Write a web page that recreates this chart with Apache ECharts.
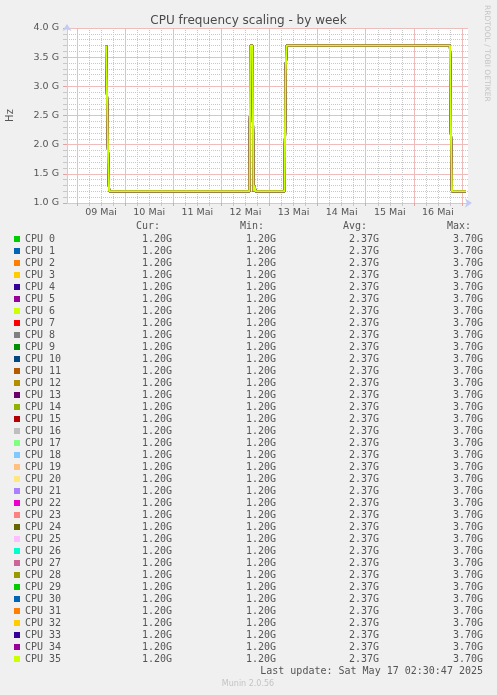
<!DOCTYPE html>
<html>
<head>
<meta charset="utf-8">
<script src="https://cdn.jsdelivr.net/npm/echarts@6/dist/echarts.min.js"></script>
<style>
html,body{margin:0;padding:0;background:#f0f0f0;}
#main{width:497px;height:695px;}
</style>
</head>
<body>
<div id="main"></div>
<script>
// hours since 09 Mai 00:00, visible window
var xMin = -5, xMax = 195;
var dayLabels = ['09 Mai','10 Mai','11 Mai','12 Mai','13 Mai','14 Mai','15 Mai','16 Mai'];
// frequency trace (GHz), same for all cores
var freqTimes  = [14.5, 15.0, 15.5, 16.0, 86.0, 86.5, 87.5, 88.0, 88.5, 89.0, 103.5, 104.0, 104.5, 186.0, 186.5, 187.0, 194.0];
var freqValues = [3.70, 3.70, 1.80, 1.20, 1.20, 3.70, 3.70, 1.20, 1.30, 1.20, 1.20,  3.20,  3.70,  3.70,  2.20,  1.20,  1.20];
var cpuNames = [];
for (var i = 0; i < 36; i++) cpuNames.push('CPU ' + i);
// munin palette, wraps after 29
var palette = ['#00CC00','#0066B3','#FF8000','#FFCC00','#330099','#990099','#CCFF00','#FF0000','#808080',
	'#008F00','#00487D','#B35A00','#B38F00','#6B006B','#8FB300','#B30000','#BEBEBE','#80FF80','#80C9FF',
	'#FFC080','#FFE680','#AA80FF','#EE00CC','#FF8080','#666600','#FFBFFF','#00FFCC','#CC6699','#999900'];
var curVals = ['1.20G','1.20G','1.20G','1.20G','1.20G','1.20G','1.20G','1.20G','1.20G','1.20G','1.20G','1.20G',
	'1.20G','1.20G','1.20G','1.20G','1.20G','1.20G','1.20G','1.20G','1.20G','1.20G','1.20G','1.20G',
	'1.20G','1.20G','1.20G','1.20G','1.20G','1.20G','1.20G','1.20G','1.20G','1.20G','1.20G','1.20G'];
var minVals = curVals.slice();
var avgVals = ['2.37G','2.37G','2.37G','2.37G','2.37G','2.37G','2.37G','2.37G','2.37G','2.37G','2.37G','2.37G',
	'2.37G','2.37G','2.37G','2.37G','2.37G','2.37G','2.37G','2.37G','2.37G','2.37G','2.37G','2.37G',
	'2.37G','2.37G','2.37G','2.37G','2.37G','2.37G','2.37G','2.37G','2.37G','2.37G','2.37G','2.37G'];
var maxVals = ['3.70G','3.70G','3.70G','3.70G','3.70G','3.70G','3.70G','3.70G','3.70G','3.70G','3.70G','3.70G',
	'3.70G','3.70G','3.70G','3.70G','3.70G','3.70G','3.70G','3.70G','3.70G','3.70G','3.70G','3.70G',
	'3.70G','3.70G','3.70G','3.70G','3.70G','3.70G','3.70G','3.70G','3.70G','3.70G','3.70G','3.70G'];

var hourCats = [];
for (var h = xMin; h <= xMax; h++) hourCats.push(String(h));

// gray grid dotted, red (major) grid as light solid lines
var gridGray = '#c8c8c8', gridRed = '#efbcbc', tickRed = '#e8a0a0', axisBlue = '#c4cbf2', txt = '#555';

var series = [];
for (var c = 0; c < cpuNames.length; c++) {
	var d = [];
	for (var k = 0; k < freqTimes.length; k++) d.push([freqTimes[k], freqValues[k]]);
	series.push({
		name: cpuNames[c],
		type: 'line',
		xAxisIndex: 0,
		z: 5,
		showSymbol: false,
		animation: false,
		lineStyle: {width: 2, color: palette[c % palette.length]},
		itemStyle: {color: palette[c % palette.length]},
		data: d
	});
}

function sixHour(i, v) { return (+v) % 6 === 0 && (+v) % 24 !== 0; }
function dayStart(i, v) { return (+v) % 24 === 0; }

var myChart = echarts.init(document.getElementById('main'));
var option = {
	backgroundColor: '#f0f0f0',
	animation: false,
	title: {
		text: 'CPU frequency scaling - by week',
		left: 'center', top: 10,
		textStyle: {fontFamily: 'DejaVu Sans', fontSize: 12, fontWeight: 'normal', color: '#4a4a4a'}
	},
	grid: {left: 67, right: 29, top: 28, bottom: 492, show: true, backgroundColor: '#fff', borderWidth: 0,
		containLabel: false, outerBoundsMode: 'none'},
	xAxis: [
		{type: 'value', min: xMin, max: xMax, position: 'bottom', show: false},
		{
			// 6 hour gray grid
			type: 'category', data: hourCats, boundaryGap: false, position: 'bottom',
			axisLine: {show: false},
			axisLabel: {show: false},
			axisTick: {show: true, length: 3, interval: sixHour, lineStyle: {color: gridGray}},
			splitLine: {show: true, interval: sixHour,
				lineStyle: {color: gridGray, type: [1, 1], width: 1}}
		},
		{
			// day grid + labels
			type: 'category', data: hourCats, boundaryGap: false, position: 'bottom',
			axisLine: {show: true, onZero: false, lineStyle: {color: axisBlue, width: 1},
				symbol: ['none', 'arrow'], symbolSize: [7, 7], symbolOffset: [0, 4]},
			axisTick: {show: true, length: 3, interval: dayStart, lineStyle: {color: tickRed}},
			axisLabel: {
				interval: function (i, v) { return ((+v) % 24 + 24) % 24 === 12; },
				formatter: function (v) { return dayLabels[Math.floor((+v) / 24)]; },
				margin: 5, fontFamily: 'DejaVu Sans', fontSize: 9.5, color: txt
			},
			splitLine: {show: true, interval: dayStart,
				lineStyle: {color: gridRed, width: 1}}
		}
	],
	yAxis: {
		type: 'value', min: 1, max: 4, interval: 0.5,
		name: 'Hz', nameLocation: 'middle', nameGap: 52, nameRotate: 90,
		nameTextStyle: {fontFamily: 'DejaVu Sans', fontSize: 10, color: txt},
		axisLine: {show: true, onZero: false, lineStyle: {color: axisBlue, width: 1},
			symbol: ['none', 'arrow'], symbolSize: [7, 7], symbolOffset: [0, 4]},
		axisTick: {show: true, length: 4, lineStyle: {color: tickRed}},
		minorTick: {show: true, splitNumber: 5, length: 4, lineStyle: {color: gridGray}},
		axisLabel: {formatter: function (v) { return v.toFixed(1) + ' G'; }, margin: 8,
			fontFamily: 'DejaVu Sans', fontSize: 9.5, color: txt},
		splitLine: {show: true, lineStyle: {color: gridRed, width: 1}},
		minorSplitLine: {show: true, lineStyle: {color: gridGray, type: [1, 1], width: 1}}
	},
	legend: {
		orient: 'vertical', left: 14, top: 233, padding: 0,
		itemWidth: 6, itemHeight: 6, itemGap: 0, icon: 'rect',
		selectedMode: false,
		data: cpuNames,
		textStyle: {
			fontFamily: 'DejaVu Sans Mono', fontSize: 10, color: txt, lineHeight: 12,
			rich: {
				n: {width: 85, fontFamily: 'DejaVu Sans Mono', fontSize: 10, color: txt, lineHeight: 12},
				c: {width: 62, align: 'right', fontFamily: 'DejaVu Sans Mono', fontSize: 10, color: txt, lineHeight: 12},
				m: {width: 104, align: 'right', fontFamily: 'DejaVu Sans Mono', fontSize: 10, color: txt, lineHeight: 12},
				a: {width: 103, align: 'right', fontFamily: 'DejaVu Sans Mono', fontSize: 10, color: txt, lineHeight: 12},
				x: {width: 104, align: 'right', fontFamily: 'DejaVu Sans Mono', fontSize: 10, color: txt, lineHeight: 12}
			}
		},
		formatter: function (name) {
			var i = cpuNames.indexOf(name);
			return '{n|' + name + '}{c|' + curVals[i] + '}{m|' + minVals[i] + '}{a|' + avgVals[i] + '}{x|' + maxVals[i] + '}';
		}
	},
	graphic: [
		{type: 'text', x: 160, y: 226, style: {text: 'Cur:', textAlign: 'right', textVerticalAlign: 'middle', font: '10px "DejaVu Sans Mono"', fill: txt}},
		{type: 'text', x: 264, y: 226, style: {text: 'Min:', textAlign: 'right', textVerticalAlign: 'middle', font: '10px "DejaVu Sans Mono"', fill: txt}},
		{type: 'text', x: 367, y: 226, style: {text: 'Avg:', textAlign: 'right', textVerticalAlign: 'middle', font: '10px "DejaVu Sans Mono"', fill: txt}},
		{type: 'text', x: 471, y: 226, style: {text: 'Max:', textAlign: 'right', textVerticalAlign: 'middle', font: '10px "DejaVu Sans Mono"', fill: txt}},
		{type: 'text', x: 483, y: 671, style: {text: 'Last update: Sat May 17 02:30:47 2025', textAlign: 'right', textVerticalAlign: 'middle', font: '10px "DejaVu Sans Mono"', fill: txt}},
		{type: 'text', x: 248, y: 684, style: {text: 'Munin 2.0.56', textAlign: 'center', textVerticalAlign: 'middle', font: '8px "DejaVu Sans"', fill: '#c4c4c4'}},
		{type: 'text', x: 487, y: 5, rotation: -Math.PI / 2, style: {text: 'RRDTOOL / TOBI OETIKER', textAlign: 'left', textVerticalAlign: 'middle', font: '7.5px "DejaVu Sans"', fill: '#c4c4c4'}}
	],
	series: series
};
myChart.setOption(option);
</script>
</body>
</html>
